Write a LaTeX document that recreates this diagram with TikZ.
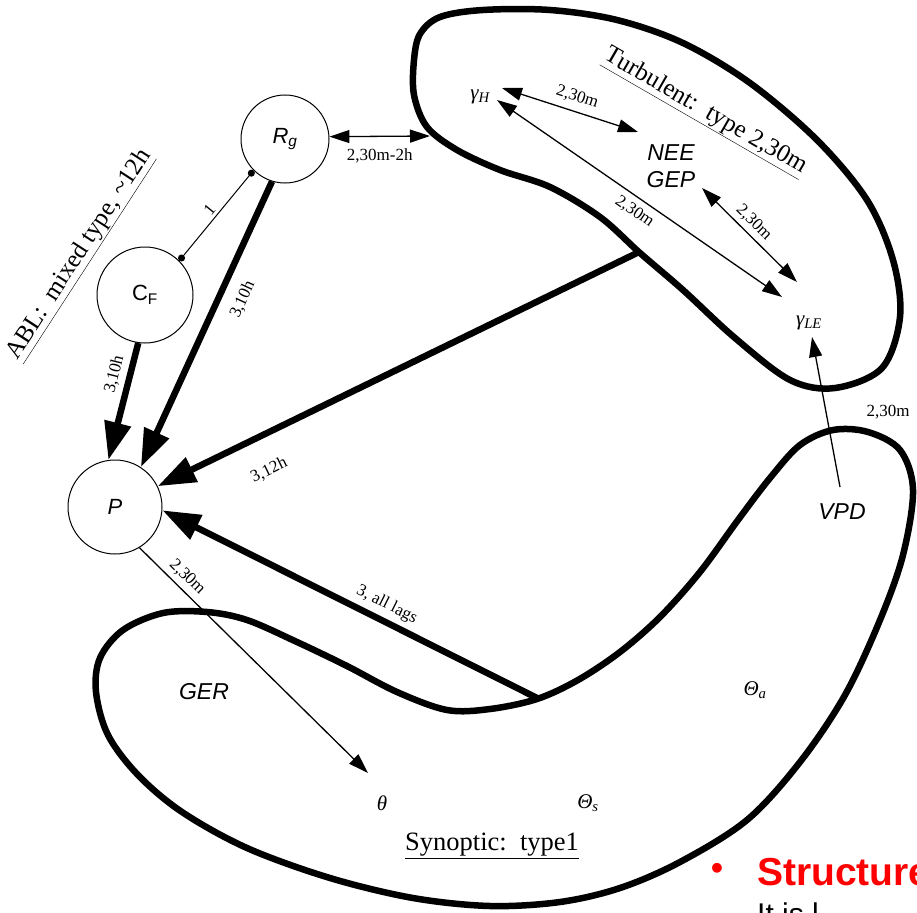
\documentclass[tikz,border=0pt]{standalone}
\usepackage{fontspec}
\setmainfont{Liberation Serif}
\newfontfamily\arialf{Liberation Sans}
\usetikzlibrary{arrows.meta}
\begin{document}
\begin{tikzpicture}[x=1pt,y=-1pt,
  blob/.style={line width=6.5pt, line join=round},
  circnode/.style={draw, circle, line width=1pt, inner sep=0pt, font=\arialf\fontsize{22}{25}\selectfont},
  var/.style={font=\arialf\itshape\fontsize{23}{26}\selectfont, inner sep=1pt},
  mvar/.style={font=\itshape\fontsize{21}{24}\selectfont, inner sep=1pt},
  lbl/.style={font=\fontsize{17}{20}\selectfont, inner sep=3pt},
  titlelbl/.style={font=\fontsize{25}{30}\selectfont, inner sep=1pt},
  bigarrow/.style={line width=6.5pt, -{Triangle[length=38pt,width=26pt]}},
  thinarrow/.style={line width=1.3pt, -{Triangle[length=20pt,width=13pt]}},
  thindouble/.style={line width=1.3pt, {Triangle[length=20pt,width=13pt]}-{Triangle[length=20pt,width=13pt]}},
  dotline/.style={line width=1pt, {Circle[length=7pt]}-{Circle[length=7pt]}},
]
\useasboundingbox (0,0) rectangle (917,912);
\clip (0,0) rectangle (917,912);

% regions
\draw[blob] plot[smooth cycle, tension=0.55] coordinates {
 (414,60) (420,34) (440,17) (483,10) (550,10) (617,20) (683,43) (750,83)
 (817,140) (867,200) (893,260) (900,317) (882,368) (835,388) (790,380)
 (735,338) (683,290) (640,253) (600,217) (550,187) (500,170) (457,150)
 (427,127) (414,95)};
\draw[blob] plot[smooth cycle, tension=0.55] coordinates {
 (537,699) (490,709) (447,710) (397,692) (347,666) (297,642) (247,620)
 (207,612) (163,613) (123,630) (100,658) (96,692) (108,735) (138,775)
 (182,812) (247,848) (330,878) (413,898) (490,906) (560,902) (620,888)
 (680,862) (747,820) (800,762) (845,695) (880,620) (903,555) (913,490)
 (900,450) (868,432) (833,430) (800,445) (770,478) (738,520) (700,572)
 (660,617) (620,652) (578,680)};

% circles
\node[circnode, minimum size=88pt] (Rg) at (285,139) {\textit{R}\textsubscript{\textit{g}}};
\node[circnode, minimum size=96pt] (CF) at (145,295) {C\textsubscript{F}};
\node[circnode, minimum size=94pt] (P) at (115,507) {\textit{P}};

% variables
\node[mvar] (gH) at (480,97) {γ\textsubscript{H}};
\node[mvar] (gLE) at (809,323) {γ\textsubscript{LE}};
\node[var] (NEE) at (671,153) {NEE};
\node[var] (GEP) at (671,180) {GEP};
\node[var] (VPD) at (842,512) {VPD};
\node[var] (GER) at (204,692) {GER};
\node[mvar] (th) at (382,803) {θ};
\node[mvar] (Ts) at (588,803) {Θ\textsubscript{s}};
\node[mvar] (Ta) at (755,690) {Θ\textsubscript{a}};

% titles
\node[titlelbl, rotate=-30] (turbt) at (705,112) {\underline{Turbulent:\ \ type 2,30m}};
\node[titlelbl, rotate=57] (ablt) at (80,255) {\underline{ABL:\ \ mixed type, \textasciitilde12h}};
\node[titlelbl, font=\fontsize{26.5}{30}\selectfont] (synt) at (492,846) {\underline{Synoptic:\ \ type1}};

% free ends
\coordinate (tl) at (430,136);
\coordinate (tj) at (639,252);
\coordinate (sj) at (537,698);
\coordinate (thtip) at (368,773);
\coordinate (gHa) at (502,88);
\coordinate (NEEa) at (638,132);
\coordinate (gHb) at (497,100);
\coordinate (gLEb) at (782,297);
\coordinate (GEPc) at (702,188);
\coordinate (gLEc) at (797,282);
\coordinate (gLEd) at (812,337);
\coordinate (VPDd) at (840,487);

% connectors
\draw[dotline] (Rg.225) -- (CF.45) node[midway, sloped, above, lbl] {1};
\draw[bigarrow] (Rg.253) -- (P.57) node[pos=0.38, sloped, below, lbl, inner sep=12pt] {3,10h};
\draw[bigarrow] (CF.262) -- (P.98) node[pos=0.3, sloped, above, lbl, inner sep=5pt] {3,10h};
\draw[bigarrow] (tj) -- (P) node[pos=0.8, sloped, below, lbl, inner sep=24pt] {3,12h};
\draw[bigarrow] (sj) -- (P.-4) node[pos=0.42, sloped, above, lbl, inner sep=5pt] {3, all lags};
\draw[thinarrow] (P.-59) -- (thtip) node[pos=0.17, sloped, above, lbl, inner sep=5pt] {2,30m};
\draw[thindouble] (Rg.3) -- (tl) node[midway, below=9pt, lbl] {2,30m-2h};
\draw[thindouble] (gHa) -- (NEEa) node[pos=0.52, sloped, above, lbl, inner sep=7pt] {2,30m};
\draw[thindouble] (gHb) -- (gLEb) node[pos=0.51, sloped, below, lbl, inner sep=6pt] {2,30m};
\draw[thindouble] (GEPc) -- (gLEc) node[pos=0.46, sloped, above, lbl, inner sep=4pt] {2,30m};
\draw[thinarrow] (VPDd) -- (gLEd) node[pos=0.5, anchor=west, xshift=37pt, lbl] {2,30m};

% slide text
\node[text=red, font=\arialf\bfseries\fontsize{34}{40}\selectfont, inner sep=0pt] (bul) at (717,871) {•};
\node[anchor=base west, text=red, font=\arialf\bfseries\fontsize{39}{44}\selectfont, inner sep=0pt] (st) at (757,885) {Structure};
\node[anchor=base west, font=\arialf\fontsize{30}{36}\selectfont, inner sep=0pt] (nxt) at (757,924) {It is l};
\end{tikzpicture}
\end{document}
